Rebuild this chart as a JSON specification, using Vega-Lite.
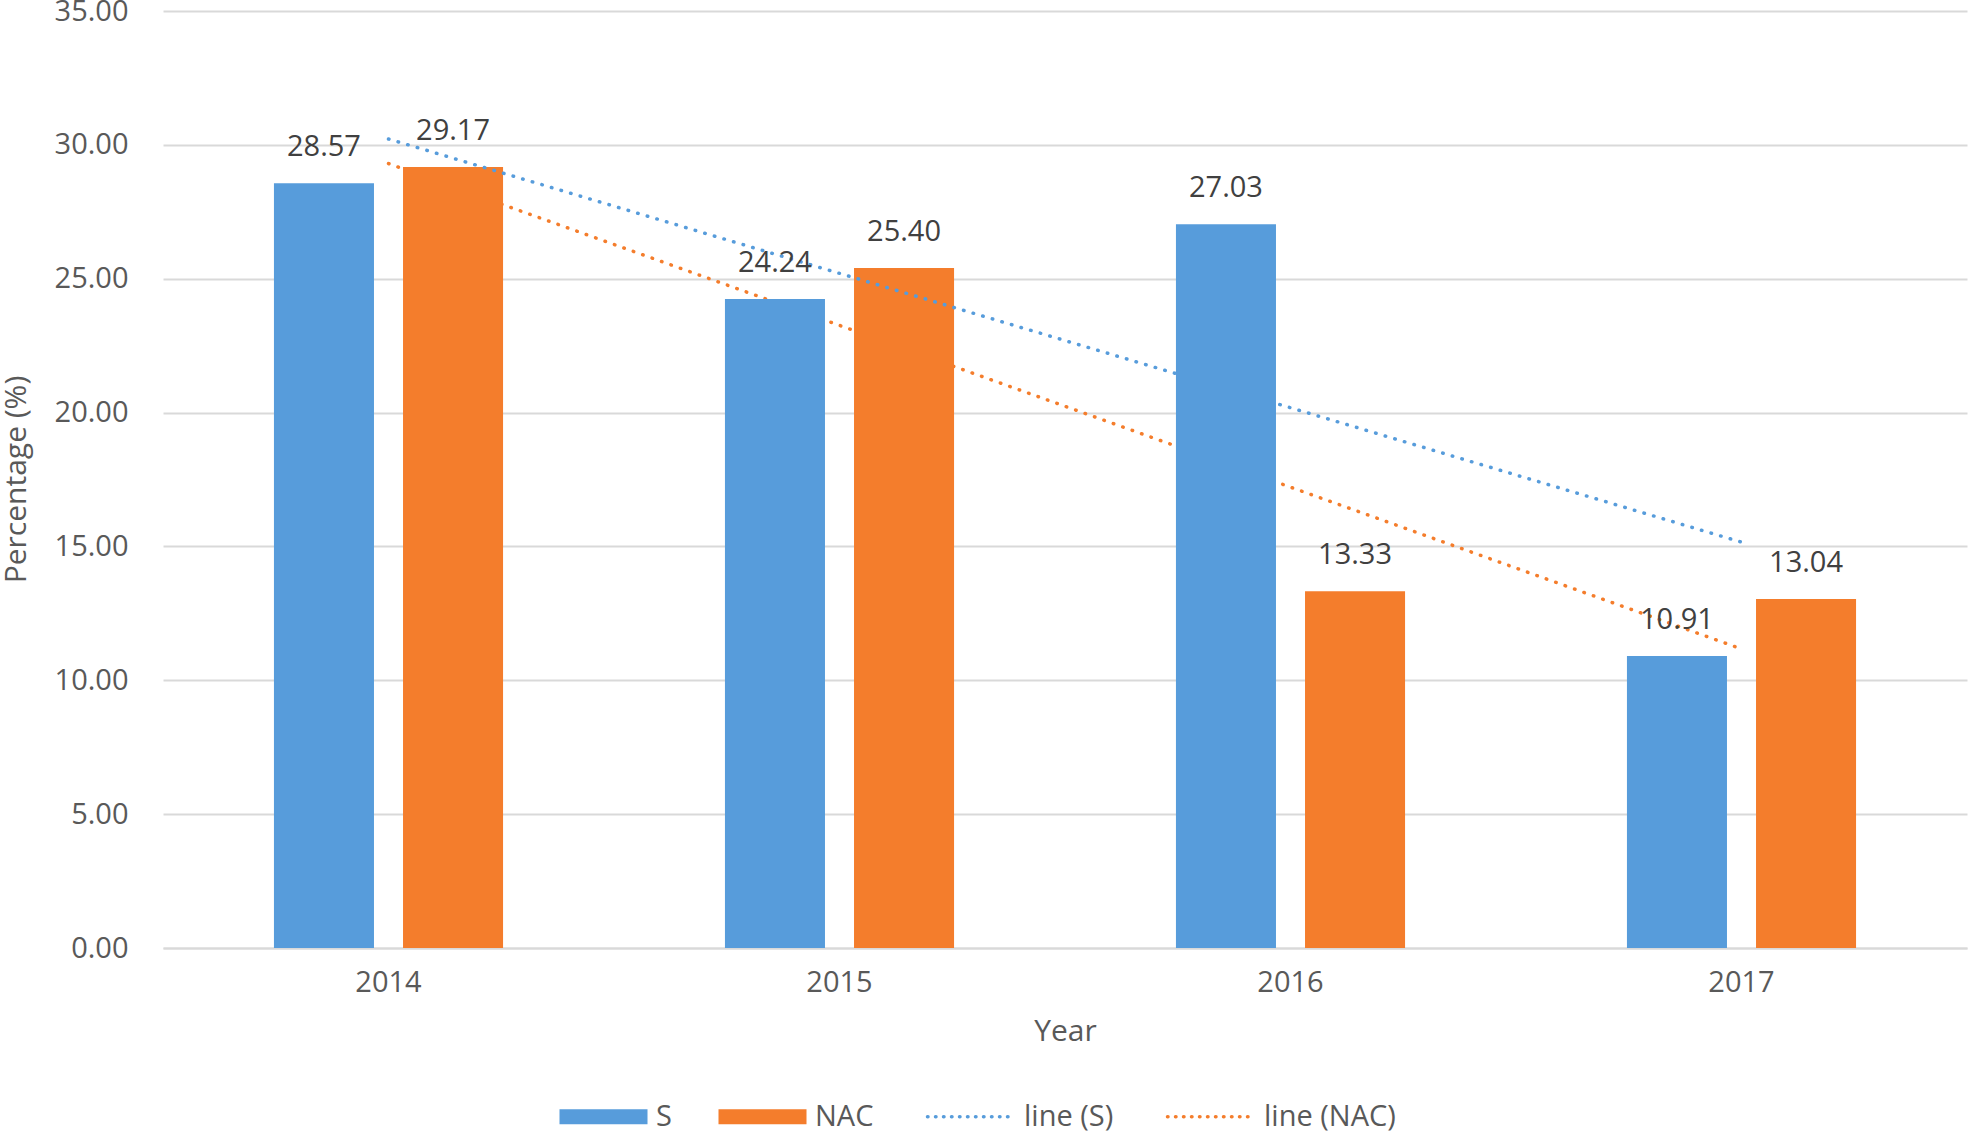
{
  "$schema": "https://vega.github.io/schema/vega-lite/v6.json",
  "autosize": {"type": "none"},
  "width": 1804,
  "height": 937,
  "padding": {"left": 163, "top": 11, "right": 2, "bottom": 187},
  "background": "#FFFFFF",
  "data": {
    "values": [
      {"year": "2014", "series": "S", "kind": "bar", "value": 28.57},
      {"year": "2014", "series": "NAC", "kind": "bar", "value": 29.17},
      {"year": "2015", "series": "S", "kind": "bar", "value": 24.24},
      {"year": "2015", "series": "NAC", "kind": "bar", "value": 25.40},
      {"year": "2016", "series": "S", "kind": "bar", "value": 27.03},
      {"year": "2016", "series": "NAC", "kind": "bar", "value": 13.33},
      {"year": "2017", "series": "S", "kind": "bar", "value": 10.91},
      {"year": "2017", "series": "NAC", "kind": "bar", "value": 13.04},
      {"year": "2014", "series": "line (S)", "kind": "trend", "value": 30.22},
      {"year": "2017", "series": "line (S)", "kind": "trend", "value": 15.16},
      {"year": "2014", "series": "line (NAC)", "kind": "trend", "value": 29.30},
      {"year": "2017", "series": "line (NAC)", "kind": "trend", "value": 11.17}
    ]
  },
  "encoding": {
    "x": {
      "field": "year",
      "type": "ordinal",
      "scale": {"paddingInner": 0.492, "paddingOuter": 0.246},
      "axis": {
        "title": "Year",
        "labelAngle": 0,
        "labelFontSize": 29,
        "labelColor": "#595959",
        "labelPadding": 20,
        "ticks": false,
        "domainColor": "#D9D9D9",
        "domainWidth": 2,
        "titleFontSize": 30,
        "titleFontWeight": "normal",
        "titleColor": "#595959",
        "titleBaseline": "alphabetic",
        "titleY": 92
      }
    },
    "y": {
      "field": "value",
      "type": "quantitative",
      "scale": {"domain": [0, 35]},
      "axis": {
        "title": "Percentage (%)",
        "values": [0, 5, 10, 15, 20, 25, 30, 35],
        "format": ".2f",
        "labelFontSize": 29,
        "labelColor": "#595959",
        "labelPadding": 35,
        "ticks": false,
        "domain": false,
        "gridColor": "#D9D9D9",
        "gridWidth": 2,
        "titleFontSize": 30,
        "titleFontWeight": "normal",
        "titleColor": "#595959",
        "titleAngle": -90,
        "titleBaseline": "alphabetic",
        "titleX": -138,
        "titleY": 468
      }
    }
  },
  "layer": [
    {
      "transform": [{"filter": "datum.series === 'line (NAC)'"}],
      "mark": {"type": "line", "strokeWidth": 3.5, "strokeDash": [0.5, 9.5], "strokeCap": "round"},
      "encoding": {
        "color": {
          "field": "series",
          "type": "nominal",
          "scale": {"domain": ["S", "NAC", "line (S)", "line (NAC)"], "range": ["#579CDB", "#F47D2C", "#579CDB", "#F47D2C"]},
          "legend": {
            "title": null,
            "orient": "none",
            "direction": "horizontal",
            "legendX": 426,
            "legendY": 1091,
            "symbolSize": 7744,
            "labelFontSize": 29,
            "labelColor": "#595959",
            "labelOffset": 38,
            "columnPadding": 46,
            "labelLimit": 0,
            "encode": {
              "symbols": {
                "update": {
                  "shape": {"signal": "indexof(['S','NAC'], datum.value) >= 0 ? 'M-1,-0.17H1V0.17H-1Z' : 'stroke'"},
                  "fill": {"signal": "indexof(['S','NAC'], datum.value) >= 0 ? scale('color', datum.value) : 'transparent'"},
                  "stroke": {"signal": "scale('color', datum.value)"},
                  "strokeWidth": {"signal": "indexof(['S','NAC'], datum.value) >= 0 ? 0 : 3.5"},
                  "strokeDash": {"signal": "indexof(['S','NAC'], datum.value) >= 0 ? [1, 0] : [0.5, 7.5]"},
                  "strokeCap": {"value": "round"},
                  "opacity": {"value": 1}
                }
              }
            }
          }
        }
      }
    },
    {
      "transform": [{"filter": "datum.series === 'NAC'"}],
      "mark": {"type": "bar"},
      "encoding": {
        "xOffset": {"field": "series", "type": "nominal", "scale": {"domain": ["S", "NAC"], "paddingInner": 0.225}},
        "color": {"field": "series", "type": "nominal", "scale": {"domain": ["S", "NAC", "line (S)", "line (NAC)"], "range": ["#579CDB", "#F47D2C", "#579CDB", "#F47D2C"]}}
      }
    },
    {
      "transform": [{"filter": "datum.series === 'line (S)'"}],
      "mark": {"type": "line", "strokeWidth": 3.5, "strokeDash": [0.5, 9.5], "strokeCap": "round"},
      "encoding": {
        "color": {"field": "series", "type": "nominal", "scale": {"domain": ["S", "NAC", "line (S)", "line (NAC)"], "range": ["#579CDB", "#F47D2C", "#579CDB", "#F47D2C"]}}
      }
    },
    {
      "transform": [{"filter": "datum.series === 'S'"}],
      "mark": {"type": "bar"},
      "encoding": {
        "xOffset": {"field": "series", "type": "nominal", "scale": {"domain": ["S", "NAC"], "paddingInner": 0.225}},
        "color": {"field": "series", "type": "nominal", "scale": {"domain": ["S", "NAC", "line (S)", "line (NAC)"], "range": ["#579CDB", "#F47D2C", "#579CDB", "#F47D2C"]}}
      }
    },
    {
      "transform": [{"filter": "datum.kind === 'bar'"}],
      "mark": {"type": "text", "baseline": "alphabetic", "dy": -27, "fontSize": 29, "color": "#404040"},
      "encoding": {
        "xOffset": {"field": "series", "type": "nominal", "scale": {"domain": ["S", "NAC"], "paddingInner": 0.225}},
        "text": {"field": "value", "type": "quantitative", "format": ".2f"}
      }
    }
  ],
  "config": {
    "view": {"stroke": null},
    "font": "Open Sans"
  }
}
